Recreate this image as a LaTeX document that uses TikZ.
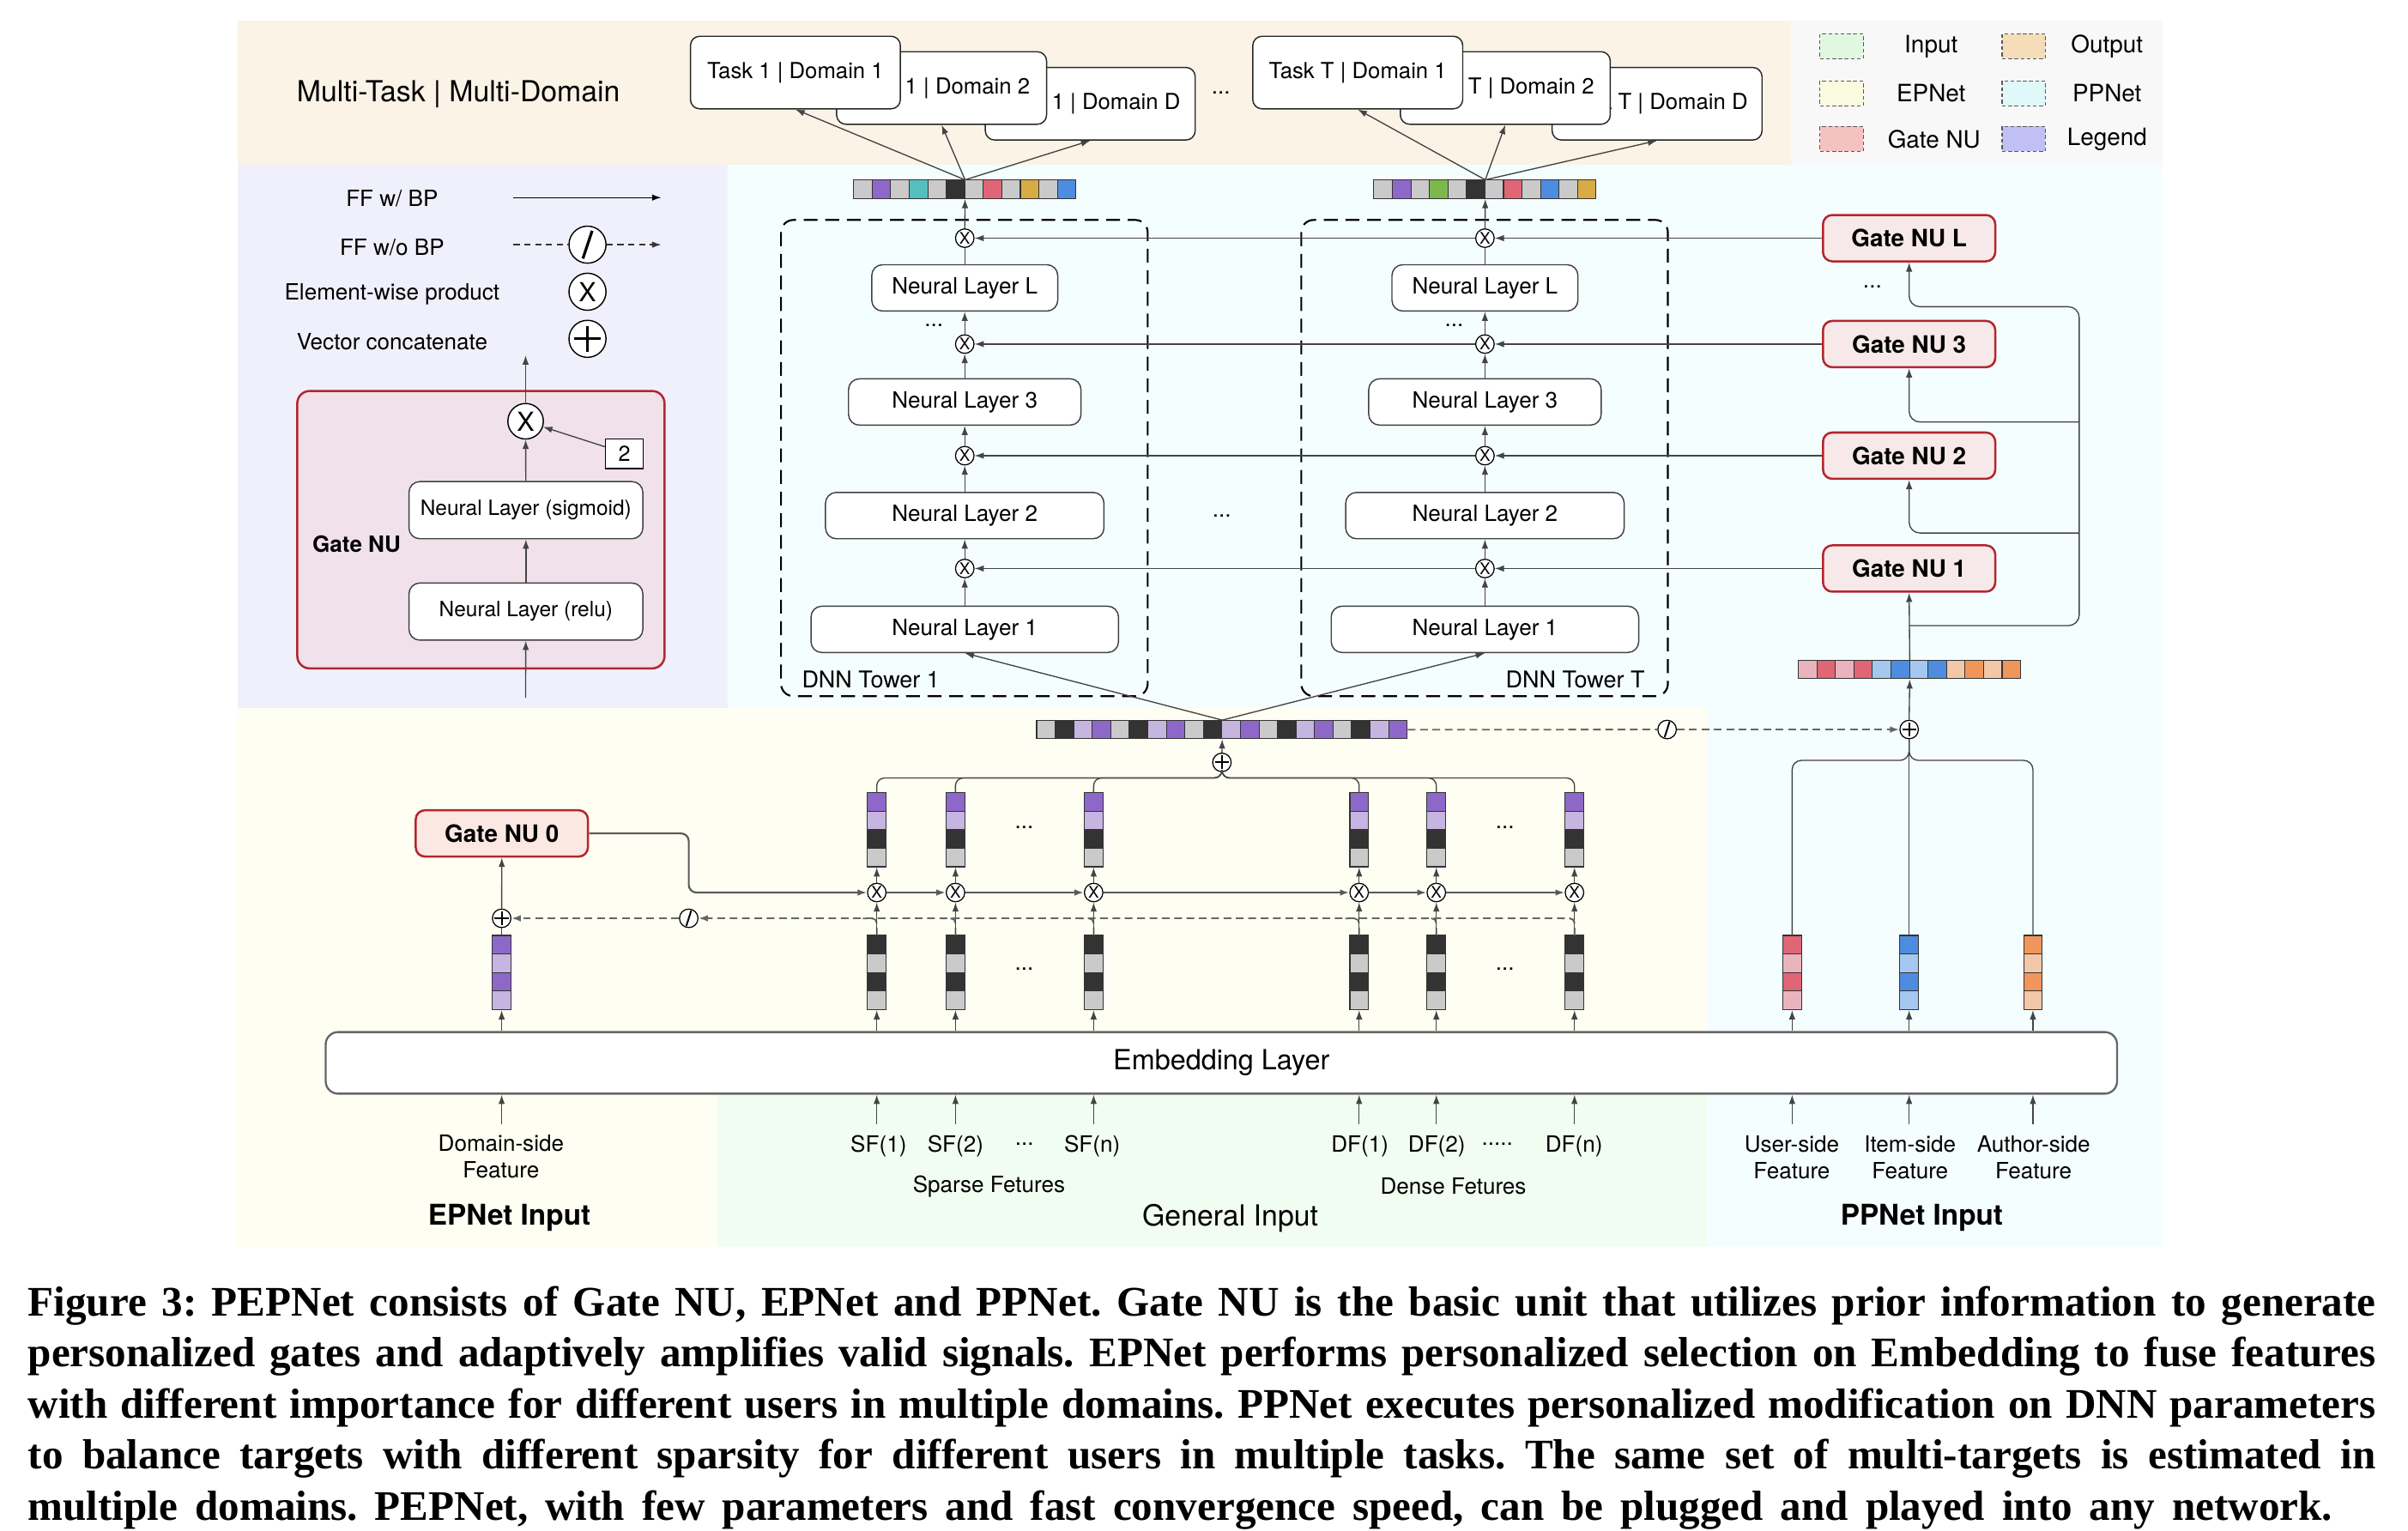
\documentclass[tikz,border=0pt]{standalone}
\usepackage{fontspec}
\setmainfont{TeX Gyre Heros}
\newfontfamily\capfont{Liberation Serif}
\usetikzlibrary{arrows.meta,calc}
\frenchspacing

\definecolor{bgpeach}{HTML}{FBF3E6}
\definecolor{bgleg}{HTML}{F8F8F8}
\definecolor{bglav}{HTML}{F0F0FC}
\definecolor{bgcyan}{HTML}{F5FEFE}
\definecolor{bgyel}{HTML}{FEFEF2}
\definecolor{bggreen}{HTML}{F2FDF2}
\definecolor{gatered}{HTML}{B3262F}
\definecolor{gatefill}{HTML}{F7E9EA}
\definecolor{gatefillb}{HTML}{FBE8E3}
\definecolor{gatefillc}{HTML}{F1E1EA}
\definecolor{cgray}{HTML}{CACACA}
\definecolor{cblack}{HTML}{333333}
\definecolor{cpurple}{HTML}{8E68C8}
\definecolor{clav}{HTML}{C6B5E0}
\definecolor{cteal}{HTML}{55BFC0}
\definecolor{cred}{HTML}{E06575}
\definecolor{cpink}{HTML}{EAB4BE}
\definecolor{cgold}{HTML}{D7AC45}
\definecolor{cblue}{HTML}{4E8CE0}
\definecolor{clblue}{HTML}{A4C8F0}
\definecolor{cgreen}{HTML}{7CB84C}
\definecolor{corange}{HTML}{F0965A}
\definecolor{cpeach}{HTML}{F2C8A8}
\definecolor{lgin}{HTML}{E0F8E0}
\definecolor{lgout}{HTML}{F5DDB8}
\definecolor{lgep}{HTML}{FBFBDF}
\definecolor{lgpp}{HTML}{E0F8FA}
\definecolor{lggate}{HTML}{F5C2C2}
\definecolor{lgleg}{HTML}{C0C0F5}
\definecolor{linec}{HTML}{444444}

\tikzset{
  every node/.style={font=\fontsize{14.5}{17.2}\selectfont},
  ln/.style={draw=linec, line width=0.75pt},
  tip/.style={-{Latex[length=6pt,width=4.2pt]}},
  arr/.style={ln, tip},
  dln/.style={draw=black!60, line width=1pt, dash pattern=on 5pt off 3pt},
  ldln/.style={draw=black!80, line width=0.8pt, dash pattern=on 4pt off 3pt},
  gln/.style={draw=black!65, line width=1.2pt},
  cell/.style={draw=black!80, line width=0.6pt},
  nl/.style={draw=black!75, fill=white, rounded corners=7pt, minimum height=30pt, inner sep=0pt, line width=0.8pt},
  task/.style={draw=black!85, fill=white, rounded corners=6pt, minimum width=136pt, minimum height=47pt, inner sep=0pt, line width=0.8pt, font=\fontsize{14.3}{17}\selectfont},
  gate/.style={draw=gatered, fill=gatefill, line width=1.4pt, rounded corners=6pt, minimum width=111.6pt, minimum height=30pt, inner sep=0pt, font=\bfseries\fontsize{15.5}{18}\selectfont},
  xc/.style={circle, draw=black, fill=white, line width=0.7pt, inner sep=0pt, minimum size=12pt, font=\fontsize{10.5}{10.5}\selectfont},
  pc/.style={circle, draw=black, fill=white, line width=0.7pt, inner sep=0pt, minimum size=12pt,
    path picture={\draw[line width=1.1pt] ([yshift=-4.5pt]path picture bounding box.center) -- ([yshift=4.5pt]path picture bounding box.center) ([xshift=-4.5pt]path picture bounding box.center) -- ([xshift=4.5pt]path picture bounding box.center);}},
  sc/.style={circle, draw=black, fill=white, line width=0.7pt, inner sep=0pt, minimum size=12pt,
    path picture={\draw[line width=1.1pt] ([shift={(-1.6pt,-5pt)}]path picture bounding box.center) -- ([shift={(1.6pt,5pt)}]path picture bounding box.center);}},
  bxc/.style={circle, draw=black, fill=white, line width=0.8pt, inner sep=0pt, minimum size=24pt, font=\fontsize{17}{17}\selectfont},
  bpc/.style={circle, draw=black, fill=white, line width=0.8pt, inner sep=0pt, minimum size=24pt,
    path picture={\draw[line width=1.6pt] ([yshift=-8.5pt]path picture bounding box.center) -- ([yshift=8.5pt]path picture bounding box.center) ([xshift=-8.5pt]path picture bounding box.center) -- ([xshift=8.5pt]path picture bounding box.center);}},
  bsc/.style={circle, draw=black, fill=white, line width=0.8pt, inner sep=0pt, minimum size=24pt,
    path picture={\draw[line width=1.8pt] ([shift={(-3pt,-9pt)}]path picture bounding box.center) -- ([shift={(3pt,9pt)}]path picture bounding box.center);}},
  swatch/.style={draw=black!65, line width=0.6pt, dash pattern=on 2.5pt off 1.5pt, minimum width=28pt, minimum height=16pt, inner sep=0pt},
  lbl/.style={align=center, font=\fontsize{14.5}{17.2}\selectfont},
  big/.style={font=\fontsize{18.8}{22}\selectfont},
  bigb/.style={font=\bfseries\fontsize{18.5}{22}\selectfont},
  leg/.style={font=\fontsize{15.5}{18}\selectfont},
  capl/.style={anchor=west, inner sep=0pt, font=\capfont\bfseries\fontsize{27.3}{31}\selectfont},
}

% horizontal vector: name, left x, top y, number of cells, colours
\newcommand{\hvec}[5]{%
  \node[inner sep=0pt, minimum width=#4*12pt, minimum height=12pt, anchor=north west] (#1) at (#2,#3) {};
  \foreach \vcol [count=\vidx from 0] in {#5} {\draw[cell, fill=\vcol] ({#2+\vidx*12},#3) rectangle ({#2+\vidx*12+12},{#3+12});}
}
% vertical vector: name, centre x, top y, colours (top to bottom)
\newcommand{\vvec}[4]{%
  \node[inner sep=0pt, minimum width=12pt, minimum height=48pt, anchor=north] (#1) at (#2,#3) {};
  \foreach \vcol [count=\vidx from 0] in {#4} {\draw[cell, fill=\vcol] ({#2-6},{#3+\vidx*12}) rectangle ({#2+6},{#3+\vidx*12+12});}
}

\begin{document}
\begin{tikzpicture}[x=1pt, y=-1pt]
\useasboundingbox (0,0) rectangle (1560,991.8);
% ---------- backgrounds
\fill[white] (0,0) rectangle (1560,991.8);
\fill[bgpeach] (154,13.3) rectangle (1160,107);
\fill[bgleg] (1160,13.3) rectangle (1401,107);
\fill[bglav] (154,107) rectangle (471.4,458.7);
\fill[bgcyan] (471.4,107) rectangle (1401,458.7);
\fill[bgyel] (154,458.7) rectangle (1106,807.6);
\fill[bgcyan] (1106,458.7) rectangle (1401,807.6);
\fill[bggreen] (465,708.5) rectangle (1106,807.6);

% ---------- output panel
\node[big] (mtmd) at (297,61) {Multi-Task | Multi-Domain};
\node[task] (k1D) at (706.3,67.2) {Task 1 | Domain D};
\node[task] (k12) at (610,57) {Task 1 | Domain 2};
\node[task] (k11) at (515.3,47) {Task 1 | Domain 1};
\node (kdots) at (791,60) {...};
\node[task] (kTD) at (1073.5,67.2) {Task T | Domain D};
\node[task] (kT2) at (975.2,57) {Task T | Domain 2};
\node[task] (kT1) at (879.6,47) {Task T | Domain 1};

% ---------- top-right legend
\node[swatch, fill=lgin]   (sw1) at (1193,30) {};
\node[leg] (st1) at (1251,30) {Input};
\node[swatch, fill=lgout]  (sw2) at (1311,30) {};
\node[leg] (st2) at (1365,30) {Output};
\node[swatch, fill=lgep]   (sw3) at (1193,60.5) {};
\node[leg] (st3) at (1251,60.5) {EPNet};
\node[swatch, fill=lgpp]   (sw4) at (1311,60.5) {};
\node[leg] (st4) at (1365,60.5) {PPNet};
\node[swatch, fill=lggate] (sw5) at (1193,90) {};
\node[leg] (st5) at (1253,90) {Gate NU};
\node[swatch, fill=lgleg]  (sw6) at (1311,90) {};
\node[leg] (st6) at (1365,90) {Legend};

% ---------- left legend panel
\node (lff) at (254,128.5) {FF w/ BP};
\coordinate (ffa) at (332.7,128);
\coordinate (ffb) at (428.4,128);
\draw[ln, draw=black, tip] (ffa) -- (ffb);
\node (lfo) at (254,160) {FF w/o BP};
\node[bsc] (lsl) at (380.6,158.5) {};
\coordinate (foa) at (332.7,158.5);
\coordinate (fob) at (428.4,158.5);
\draw[ldln] (foa) -- (lsl);
\draw[ldln, tip] (lsl) -- (fob);
\node (lew) at (254,190.4) {Element-wise product};
\node[bxc] (lx) at (380.6,189) {X};
\node (lvc) at (254,221.3) {Vector concatenate};
\node[bpc] (lp) at (380.6,219.5) {};

\node[draw=gatered, fill=gatefillc, line width=1.4pt, rounded corners=8pt, minimum width=237.9pt, minimum height=179.7pt, inner sep=0pt] (gbox) at (311.55,343.15) {};
\node[font=\bfseries\fontsize{14.5}{17}\selectfont] (lgn) at (231,352.4) {Gate NU};
\node[nl, minimum width=151.5pt, minimum height=37pt, font=\fontsize{13.6}{16}\selectfont] (lrelu) at (340.7,396.2) {Neural Layer (relu)};
\node[nl, minimum width=151.5pt, minimum height=37pt, font=\fontsize{13.6}{16}\selectfont] (lsig) at (340.7,330.5) {Neural Layer (sigmoid)};
\node[bxc, minimum size=23pt] (lgx) at (340.5,272.9) {X};
\node[draw=black, fill=white, line width=0.7pt, minimum width=24.5pt, minimum height=19pt, inner sep=0pt, font=\fontsize{14}{14}\selectfont] (ltwo) at (404.5,294) {2};
\coordinate (lgin) at (340.5,452);
\coordinate (lgout) at (340.5,230.2);
\draw[arr] (lgin) -- (lrelu);
\draw[arr] (lrelu) -- (lsig);
\draw[arr] (lsig) -- (lgx);
\draw[arr] (lgx) -- (lgout);
\draw[arr] (ltwo.160) -- (lgx);

% ---------- vectors
\hvec{o1}{553}{116.5}{12}{cgray,cpurple,cgray,cteal,cgray,cblack,cgray,cred,cgray,cgold,cgray,cblue}
\hvec{oT}{890}{116.5}{12}{cgray,cpurple,cgray,cgreen,cgray,cblack,cgray,cred,cgray,cblue,cgray,cgold}
\hvec{cv}{671.6}{466.5}{20}{cgray,cblack,clav,cpurple,cgray,cblack,clav,cpurple,cgray,cblack,clav,cpurple,cgray,cblack,clav,cpurple,cgray,cblack,clav,cpurple}
\hvec{pv}{1165}{427.7}{12}{cpink,cred,cpink,cred,clblue,cblue,clblue,cblue,cpeach,corange,cpeach,corange}

\draw[arr] (o1.north) -- (k11.south);
\draw[arr] (o1.north) -- (k12.south);
\draw[arr] (o1.north) -- (k1D.south);
\draw[arr] (oT.north) -- (kT1.south);
\draw[arr] (oT.north) -- (kT2.south);
\draw[arr] (oT.north) -- (kTD.south);

% ---------- towers
\foreach \tn/\cx in {1/625,T/962}{
  \draw[dash pattern=on 9pt off 5pt, line width=1.2pt, rounded corners=8pt] ({\cx-119},142.5) rectangle ({\cx+118.5},451);
  \node[nl, minimum width=199.2pt] (t\tn-n1) at (\cx,407.7) {Neural Layer 1};
  \node[nl, minimum width=180.4pt] (t\tn-n2) at (\cx,334) {Neural Layer 2};
  \node[nl, minimum width=150.6pt] (t\tn-n3) at (\cx,260.4) {Neural Layer 3};
  \node[nl, minimum width=120.5pt] (t\tn-nL) at (\cx,186.5) {Neural Layer L};
  \node[xc] (t\tn-x1) at (\cx,368.3) {X};
  \node[xc] (t\tn-x2) at (\cx,295.2) {X};
  \node[xc] (t\tn-x3) at (\cx,222.9) {X};
  \node[xc] (t\tn-xL) at (\cx,154.3) {X};
  \node (t\tn-dots) at ({\cx-20},211) {...};
  \draw[arr] (t\tn-n1) -- (t\tn-x1);
  \draw[arr] (t\tn-x1) -- (t\tn-n2);
  \draw[arr] (t\tn-n2) -- (t\tn-x2);
  \draw[arr] (t\tn-x2) -- (t\tn-n3);
  \draw[arr] (t\tn-n3) -- (t\tn-x3);
  \draw[arr] (t\tn-x3) -- (t\tn-nL);
  \draw[ln] (t\tn-nL) -- (t\tn-xL);
  \draw[arr] (t\tn-xL) -- (o\tn.south);
  \draw[arr] (cv.north) -- (t\tn-n1.south);
}
\node[anchor=west, font=\fontsize{15}{18}\selectfont] (dt1) at (516,440) {DNN Tower 1};
\node[anchor=east, font=\fontsize{15}{18}\selectfont] (dtT) at (1069,440) {DNN Tower T};
\node (tdots) at (791.5,334) {...};

% ---------- PPNet gates
\node[gate] (gL) at (1236.8,154.3) {Gate NU L};
\node[gate] (g3) at (1236.8,222.9) {Gate NU 3};
\node[gate] (g2) at (1236.8,295.2) {Gate NU 2};
\node[gate] (g1) at (1236.8,368.3) {Gate NU 1};
\node (gdots) at (1213,186) {...};
\foreach \k in {1,2,3,L}{
  \draw[arr] (g\k) -- (tT-x\k);
  \draw[arr] (tT-x\k) -- (t1-x\k);
}
\coordinate (jb) at (1236.8,405.3);
\coordinate (busTop) at (1347,198.7);
\coordinate (bus3) at (1347,273.4);
\coordinate (bus2) at (1347,345.3);
\draw[arr] (pv.north) -- (g1.south);
\draw[ln, tip, rounded corners=7pt] (jb) -| (busTop) -| (gL.south);
\draw[ln, tip, rounded corners=7pt] (bus3) -| (g3.south);
\draw[ln, tip, rounded corners=7pt] (bus2) -| (g2.south);

% ---------- PPNet input side
\node[pc] (plP) at (1236.8,472.6) {};
\node[sc] (slP) at (1080,472.6) {};
\draw[arr] (plP.north) -- (pv.south);
\draw[dln] (cv.east) -- (slP);
\draw[dln, tip] (slP) -- (plP);
\vvec{pu}{1161}{606}{cred,cpink,cred,cpink}
\vvec{pi}{1236.8}{606}{cblue,clblue,cblue,clblue}
\vvec{pa}{1317}{606}{corange,cpeach,corange,cpeach}
\coordinate (jp) at (1236.8,492.6);
\draw[ln, rounded corners=6pt] (pu.north) |- (jp) -- (plP.south);
\draw[ln, rounded corners=6pt] (pa.north) |- (jp) -- (plP.south);
\draw[ln] (pi.north) -- (plP.south);

% ---------- embedding layer
\node[draw=black!60, line width=1.3pt, fill=white, rounded corners=8pt, minimum width=1160.5pt, minimum height=39.9pt, inner sep=0pt, font=\fontsize{18}{21}\selectfont] (emb) at (791.25,688.55) {Embedding Layer};

% ---------- central concat
\node[pc] (plC) at (791.6,493.9) {};
\draw[arr] (plC.north) -- (cv.south);
\coordinate (jc) at (791.6,504);

% ---------- EPNet
\node[gate, fill=gatefillb] (gate0) at (325.1,539.9) {Gate NU 0};
\vvec{lod}{325}{606}{cpurple,clav,cpurple,clav}
\node[pc] (plD) at (325,594.9) {};
\node[sc] (slD) at (446.2,594.9) {};
\draw[ln] (lod.north) -- (plD.south);
\draw[arr] (plD.north) -- (gate0.south);
\draw[arr] (lod.south |- emb.north) -- (lod.south);
\coordinate (inD) at (325,728.3);
\draw[arr] (inD) -- (inD |- emb.south);

\foreach \nm/\x in {s1/568,s2/619,sn/708.5,d1/880.5,d2/930.5,dn/1020}{
  \vvec{lo\nm}{\x}{606}{cblack,cgray,cblack,cgray}
  \vvec{up\nm}{\x}{513.5}{cpurple,clav,cblack,cgray}
  \node[xc] (x\nm) at (\x,578.2) {X};
  \draw[dln, rounded corners=3pt] (lo\nm.north) |- ++(-9,-11);
  \draw[arr] (lo\nm.north) -- (x\nm.south);
  \draw[arr] (x\nm.north) -- (up\nm.south);
  \draw[ln, rounded corners=5pt] (up\nm.north) |- (jc) -- (plC.south);
  \draw[arr] (lo\nm.south |- emb.north) -- (lo\nm.south);
  \coordinate (in\nm) at (\x,728.3);
  \draw[arr] (in\nm) -- (in\nm |- emb.south);
}
\draw[dln, tip, rounded corners=3pt] (lodn.north) |- (slD);
\draw[dln, tip] (slD) -- (plD);
\draw[gln, tip, rounded corners=5pt] (gate0.east) -| (slD.center |- xs1.center) -- (xs1.west);
\draw[gln, tip] (xs1) -- (xs2);
\draw[gln, tip] (xs2) -- (xsn);
\draw[gln, tip] (xsn) -- (xd1);
\draw[gln, tip] (xd1) -- (xd2);
\draw[gln, tip] (xd2) -- (xdn);
\node (edots1) at (663.5,536) {...};
\node (edots2) at (663.5,628) {...};
\node (edots3) at (975,536) {...};
\node (edots4) at (975,628) {...};

% PPNet input arrows
\foreach \nm/\x in {pu/1161,pi/1236.8,pa/1317}{
  \draw[arr] (\nm.south |- emb.north) -- (\nm.south);
  \coordinate (in\nm) at (\x,728.3);
  \draw[arr] (in\nm) -- (in\nm |- emb.south);
}

% ---------- input labels
\node[lbl] (ldom) at (324.6,749.5) {Domain-side\\Feature};
\node[lbl] (lsf1) at (569.2,742.5) {SF(1)};
\node[lbl] (lsf2) at (619,742.5) {SF(2)};
\node[lbl] (lsfd) at (663.6,741) {...};
\node[lbl] (lsfn) at (707.5,742.5) {SF(n)};
\node[lbl] (lsparse) at (640.7,768.5) {Sparse Fetures};
\node[lbl] (ldf1) at (881,742.5) {DF(1)};
\node[lbl] (ldf2) at (930.8,742.5) {DF(2)};
\node[lbl] (ldfd) at (970,741) {.....};
\node[lbl] (ldfn) at (1019.7,742.5) {DF(n)};
\node[lbl] (ldense) at (941.5,768.5) {Dense Fetures};
\node[lbl] (luser) at (1160.8,750) {User-side\\Feature};
\node[lbl] (litem) at (1237.4,750) {Item-side\\Feature};
\node[lbl] (lauth) at (1317.4,750) {Author-side\\Feature};
\node[bigb] (lep) at (330,789) {EPNet Input};
\node[big] (lgen) at (797,789) {General Input};
\node[bigb] (lpp) at (1245,789) {PPNet Input};

% ---------- caption
\node[capl] (cap1) at (18,846) {\hbox to 1521pt{Figure 3: PEPNet consists of Gate NU, EPNet and PPNet. Gate NU is the basic unit that utilizes prior information to generate}};
\node[capl] (cap2) at (18,879) {\hbox to 1521pt{personalized gates and adaptively amplifies valid signals. EPNet performs personalized selection on Embedding to fuse features}};
\node[capl] (cap3) at (18,912) {\hbox to 1521pt{with different importance for different users in multiple domains. PPNet executes personalized modification on DNN parameters}};
\node[capl] (cap4) at (18,945) {\hbox to 1521pt{to balance targets with different sparsity for different users in multiple tasks. The same set of multi-targets is estimated in}};
\node[capl] (cap5) at (18,978) {\hbox to 1493pt{multiple domains. PEPNet, with few parameters and fast convergence speed, can be plugged and played into any network.}};
\end{tikzpicture}
\end{document}
